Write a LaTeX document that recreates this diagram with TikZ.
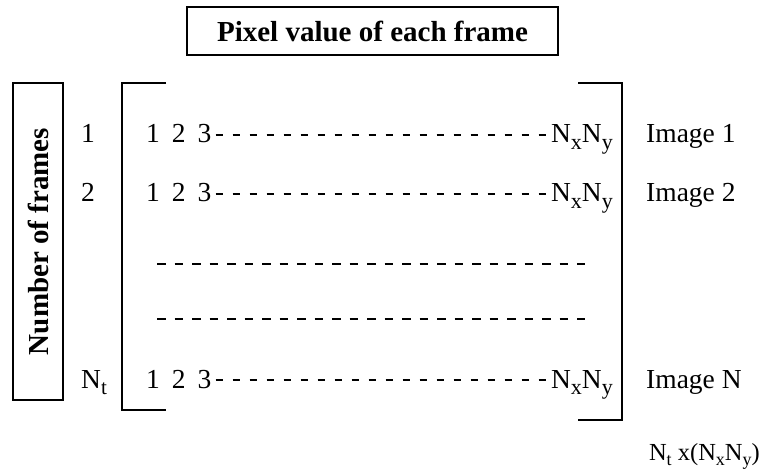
\documentclass[tikz,border=0pt]{standalone}
\usepackage{fontspec}
\setmainfont{Liberation Serif}
% lowered subscript in a smaller size
\newcommand\lowsub[2][21]{\raisebox{-0.22em}{\fontsize{#1}{#1}\selectfont #2}}
\begin{document}
\begin{tikzpicture}[x=1pt,y=-1pt,
  txt/.style={font=\fontsize{27.5}{30}\selectfont, inner sep=0pt},
  smalltxt/.style={font=\fontsize{24.5}{27}\selectfont, inner sep=0pt},
  headbox/.style={draw, line width=1.6pt, inner sep=0pt,
    font=\fontsize{29}{32}\selectfont\bfseries},
  brace/.style={line width=2.4pt},
  dashrow/.style={line width=2.6pt, dash pattern=on 8.5pt off 9pt},
  hyphens/.style={line width=1.8pt, dash pattern=on 7pt off 10pt}]
\useasboundingbox (0,0) rectangle (764,476);

% headings
\node[headbox, minimum width=371pt, minimum height=48pt] (title) at (372.5,31) {Pixel value of each frame};
\node[headbox, minimum width=317pt, minimum height=50pt, rotate=90] (frames) at (38,241.5) {Number of frames};

% matrix brackets
\coordinate (lt) at (122,83);
\coordinate (lb) at (122,410);
\coordinate (rt) at (622,83);
\coordinate (rb) at (622,420);
\draw[brace] ([xshift=44pt]lt) -- (lt) -- (lb) -- ([xshift=44pt]lb);
\draw[brace] ([xshift=-44pt]rt) -- (rt) -- (rb) -- ([xshift=-44pt]rb);

% row indices
\node[txt, anchor=base] (i1) at (88,143) {1};
\node[txt, anchor=base] (i2) at (88,202) {2};
\node[txt, anchor=base west] (i3) at (81,388) {N\lowsub{t}};

% rows of pixel values
\foreach \r/\y in {1/143, 2/202, 3/388}{
  \node[txt, anchor=base west] (a\r) at (146,\y) {1\hspace{12pt}2\hspace{12pt}3};
  \node[txt, anchor=base east] (b\r) at (613,\y) {N\lowsub[22]{x}N\lowsub[22]{y}};
  \draw[hyphens] ([xshift=4pt,yshift=8pt]a\r.base east) -- ([xshift=-3pt,yshift=8pt]b\r.base west);
}

% elided rows
\coordinate (d1s) at (157,264);
\coordinate (d1e) at (585,264);
\coordinate (d2s) at (157,319);
\coordinate (d2e) at (585,319);
\draw[dashrow] (d1s) -- (d1e);
\draw[dashrow] (d2s) -- (d2e);

% image labels
\node[txt, anchor=base west] (img1) at (646,143) {Image 1};
\node[txt, anchor=base west] (img2) at (646,202) {Image 2};
\node[txt, anchor=base west] (imgN) at (646,388) {Image N};

% matrix size
\node[smalltxt, anchor=base east] (size) at (760,460) {N\lowsub[18]{t} x(N\lowsub[18]{x}N\lowsub[18]{y})};
\end{tikzpicture}
\end{document}
